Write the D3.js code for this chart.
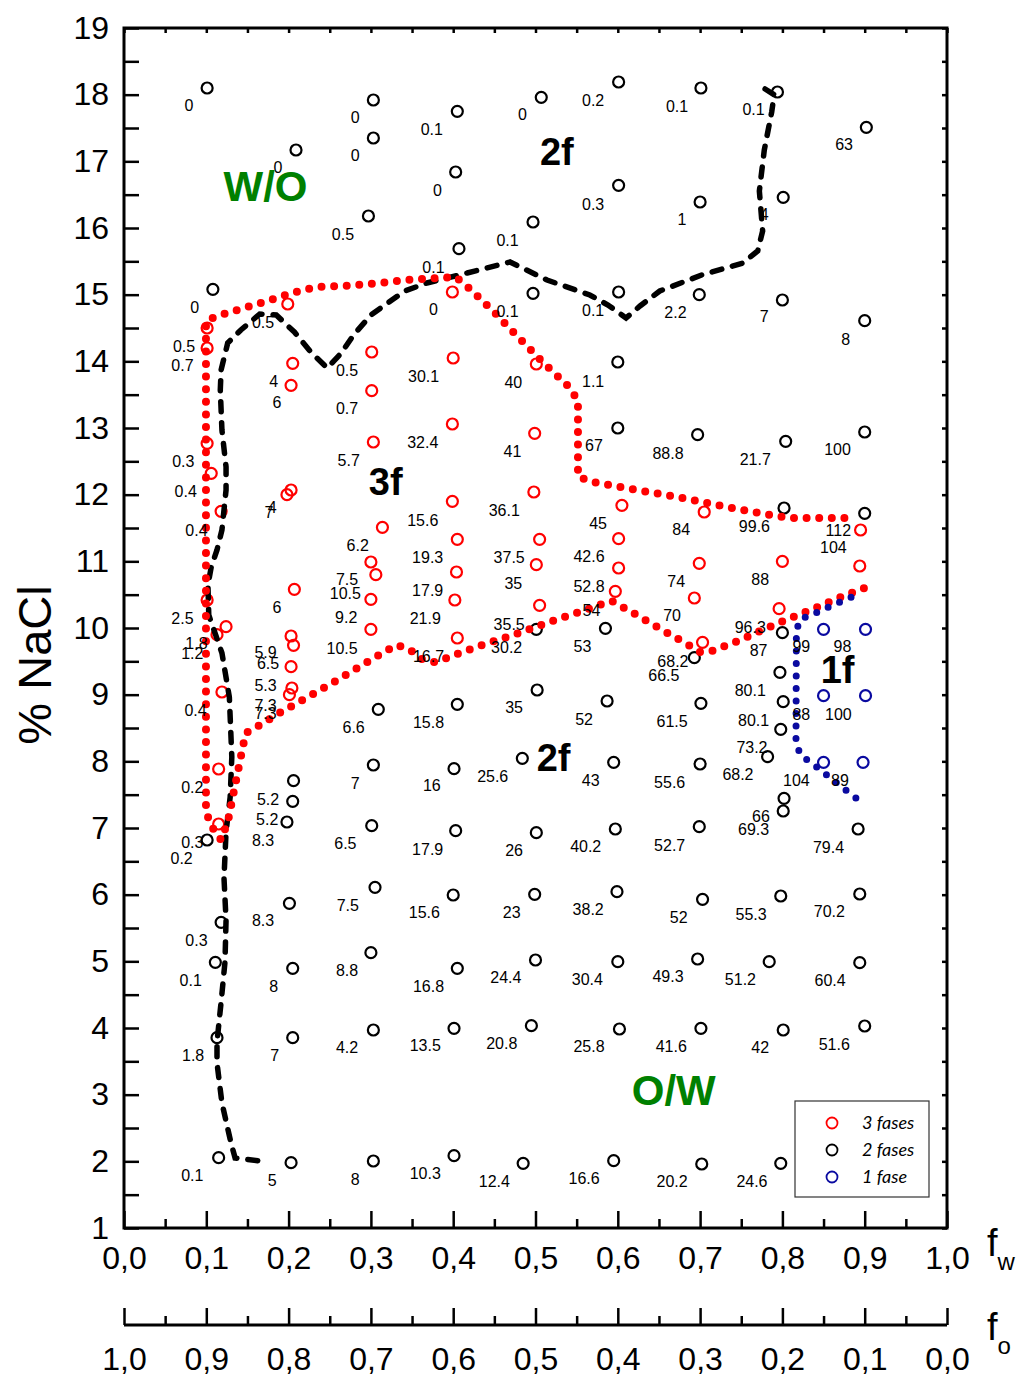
<!DOCTYPE html>
<html>
<head>
<meta charset="utf-8">
<script src="https://cdn.jsdelivr.net/npm/d3@7"></script>
<style>
  body { margin: 0; background: #fff; }
  text { font-family: "Liberation Sans", Arial, sans-serif; }
</style>
</head>
<body>
<div id="chart"></div>
<script>
// ---- data: [fw, %NaCl] ----
const threePhase = [
  [0.101, 14.5], [0.101, 14.2], [0.101, 12.77], [0.106, 12.32], [0.118, 11.75], [0.101, 10.42],
  [0.124, 10.02], [0.113, 9.9], [0.119, 9.04], [0.115, 7.885], [0.115, 7.06],
  [0.199, 14.86], [0.205, 13.97], [0.203, 13.64], [0.203, 12.07], [0.198, 12.0], [0.207, 10.58],
  [0.203, 9.88], [0.206, 9.74], [0.203, 9.42], [0.204, 9.1], [0.201, 9.0],
  [0.301, 14.14], [0.301, 13.56], [0.303, 12.79], [0.314, 11.51], [0.300, 10.99], [0.306, 10.8],
  [0.300, 10.43], [0.300, 9.98],
  [0.399, 15.04], [0.400, 14.05], [0.399, 13.06], [0.399, 11.9], [0.405, 11.33], [0.404, 10.84],
  [0.402, 10.42], [0.405, 9.85],
  [0.501, 13.96], [0.499, 12.92], [0.498, 12.04], [0.505, 11.33], [0.501, 10.95], [0.505, 10.34],
  [0.605, 11.84], [0.601, 11.34], [0.601, 10.9], [0.597, 10.55],
  [0.705, 11.74], [0.699, 10.97], [0.693, 10.45], [0.703, 9.785],
  [0.800, 11.0], [0.796, 10.29],
  [0.895, 11.47], [0.894, 10.93]
];
const twoPhase = [
  [0.101, 18.1], [0.108, 15.08], [0.101, 6.82], [0.118, 5.585], [0.111, 4.985], [0.113, 3.855], [0.115, 2.055],
  [0.209, 17.17], [0.206, 7.71], [0.205, 7.4], [0.198, 7.09], [0.201, 5.87], [0.205, 4.895], [0.205, 3.855], [0.203, 1.98],
  [0.303, 17.92], [0.303, 17.35], [0.297, 16.18], [0.309, 8.78], [0.303, 7.945], [0.301, 7.035], [0.305, 6.11],
  [0.300, 5.13], [0.303, 3.97], [0.303, 2.005],
  [0.405, 17.75], [0.403, 16.84], [0.407, 15.69], [0.405, 8.855], [0.401, 7.89], [0.403, 6.96], [0.400, 5.995],
  [0.405, 4.895], [0.401, 3.995], [0.401, 2.085],
  [0.507, 17.96], [0.497, 16.09], [0.497, 15.02], [0.501, 9.98], [0.502, 9.07], [0.484, 8.045], [0.501, 6.93],
  [0.499, 6.005], [0.500, 5.02], [0.495, 4.035], [0.485, 1.97],
  [0.601, 18.19], [0.601, 16.64], [0.601, 15.04], [0.600, 13.99], [0.600, 13.0], [0.585, 9.995], [0.587, 8.905],
  [0.595, 7.985], [0.597, 6.985], [0.599, 6.045], [0.600, 4.995], [0.602, 3.985], [0.595, 2.01],
  [0.701, 18.1], [0.700, 16.39], [0.699, 15.0], [0.697, 12.9], [0.693, 9.555], [0.701, 8.87], [0.700, 7.96],
  [0.699, 7.02], [0.703, 5.93], [0.697, 5.035], [0.701, 3.995], [0.702, 1.96],
  [0.794, 18.04], [0.801, 16.46], [0.800, 14.92], [0.804, 12.8], [0.802, 11.8], [0.800, 9.93], [0.797, 9.335],
  [0.801, 8.895], [0.798, 8.48], [0.782, 8.07], [0.802, 7.445], [0.801, 7.255], [0.798, 5.98], [0.784, 4.995],
  [0.801, 3.97], [0.798, 1.97],
  [0.902, 17.51], [0.900, 14.61], [0.900, 12.94], [0.900, 11.72], [0.892, 6.985], [0.894, 6.01], [0.894, 4.98],
  [0.900, 4.03]
];
const onePhase = [
  [0.850, 9.98], [0.901, 9.98], [0.850, 8.985], [0.901, 8.985], [0.850, 7.985], [0.898, 7.985]
];

// value labels next to the points: [text, fw, %NaCl]
const valueLabels = [
  ["0", 0.079, 17.835], ["0", 0.281, 17.66], ["0", 0.281, 17.085], ["0", 0.187, 16.91], ["0.5", 0.266, 15.91],
  ["0", 0.086, 14.81], ["0.1", 0.374, 17.475], ["0", 0.484, 17.70], ["0.2", 0.570, 17.91], ["0", 0.381, 16.565],
  ["0.3", 0.570, 16.36], ["0.1", 0.466, 15.81], ["0.1", 0.376, 15.415], ["0.1", 0.466, 14.75], ["0.1", 0.570, 14.76],
  ["0", 0.376, 14.775], ["0.1", 0.672, 17.825], ["0.1", 0.765, 17.775], ["63", 0.875, 17.25], ["1", 0.678, 16.135],
  ["4", 0.778, 16.2], ["2.2", 0.670, 14.735], ["7", 0.778, 14.675], ["8", 0.877, 14.335], ["88.8", 0.661, 12.625],
  ["21.7", 0.767, 12.53], ["100", 0.867, 12.68], ["99.6", 0.766, 11.52], ["112", 0.868, 11.47], ["84", 0.677, 11.48],
  ["104", 0.862, 11.205], ["74", 0.671, 10.705], ["88", 0.773, 10.735], ["70", 0.666, 10.195], ["96.3", 0.761, 10.015],
  ["0.5", 0.073, 14.22], ["0.7", 0.071, 13.935], ["4", 0.182, 13.695], ["6", 0.186, 13.38], ["0.5", 0.271, 13.87],
  ["0.7", 0.271, 13.295], ["0.3", 0.072, 12.495], ["0.4", 0.075, 12.045], ["0.4", 0.088, 11.47], ["4", 0.180, 11.815],
  ["7", 0.176, 11.74], ["5.7", 0.273, 12.52], ["6.2", 0.284, 11.235], ["7.5", 0.271, 10.73], ["10.5", 0.269, 10.52],
  ["9.2", 0.270, 10.165], ["6", 0.186, 10.31], ["2.5", 0.071, 10.15], ["30.1", 0.364, 13.77], ["40", 0.473, 13.685],
  ["1.1", 0.570, 13.705], ["32.4", 0.363, 12.785], ["41", 0.472, 12.655], ["67", 0.571, 12.735], ["15.6", 0.363, 11.62],
  ["36.1", 0.462, 11.77], ["45", 0.576, 11.57], ["19.3", 0.369, 11.06], ["37.5", 0.468, 11.06], ["42.6", 0.565, 11.07],
  ["17.9", 0.369, 10.56], ["35", 0.473, 10.67], ["52.8", 0.565, 10.63], ["21.9", 0.366, 10.15], ["35.5", 0.468, 10.06],
  ["54", 0.568, 10.27], ["1.8", 0.088, 9.77], ["1.2", 0.083, 9.62], ["5.9", 0.172, 9.635], ["6.5", 0.175, 9.47],
  ["5.3", 0.172, 9.135], ["7.3", 0.172, 8.835], ["7.3", 0.172, 8.72], ["0.4", 0.087, 8.76], ["10.5", 0.265, 9.695],
  ["0.2", 0.083, 7.61], ["0.3", 0.083, 6.785], ["0.2", 0.070, 6.545], ["6.6", 0.279, 8.51], ["5.2", 0.175, 7.43],
  ["5.2", 0.174, 7.13], ["8.3", 0.169, 6.82], ["7", 0.281, 7.67], ["6.5", 0.269, 6.77], ["7.5", 0.272, 5.845],
  ["8.3", 0.169, 5.62], ["16.7", 0.370, 9.57], ["30.2", 0.465, 9.71], ["53", 0.557, 9.72], ["15.8", 0.370, 8.585],
  ["35", 0.474, 8.81], ["52", 0.559, 8.635], ["16", 0.374, 7.635], ["25.6", 0.448, 7.78], ["43", 0.567, 7.72],
  ["17.9", 0.369, 6.685], ["26", 0.474, 6.66], ["40.2", 0.561, 6.72], ["15.6", 0.365, 5.74], ["23", 0.471, 5.74],
  ["38.2", 0.564, 5.785], ["87", 0.771, 9.66], ["68.2", 0.667, 9.505], ["66.5", 0.656, 9.295], ["80.1", 0.761, 9.06],
  ["80.1", 0.765, 8.62], ["73.2", 0.763, 8.21], ["68.2", 0.746, 7.81], ["61.5", 0.666, 8.605], ["55.6", 0.663, 7.69],
  ["104", 0.817, 7.71], ["66", 0.774, 7.17], ["69.3", 0.765, 6.985], ["52.7", 0.663, 6.745], ["79.4", 0.856, 6.71],
  ["52", 0.674, 5.665], ["55.3", 0.762, 5.71], ["70.2", 0.857, 5.745], ["99", 0.823, 9.72], ["98", 0.873, 9.72],
  ["88", 0.823, 8.71], ["100", 0.868, 8.71], ["89", 0.870, 7.72], ["0.3", 0.088, 5.31], ["0.1", 0.081, 4.72],
  ["8", 0.182, 4.63], ["8.8", 0.271, 4.86], ["1.8", 0.084, 3.585], ["7", 0.183, 3.595], ["4.2", 0.271, 3.71],
  ["0.1", 0.083, 1.785], ["5", 0.180, 1.71], ["8", 0.281, 1.735], ["16.8", 0.370, 4.63], ["24.4", 0.464, 4.755],
  ["30.4", 0.563, 4.735], ["13.5", 0.366, 3.735], ["20.8", 0.459, 3.77], ["25.8", 0.565, 3.72], ["10.3", 0.366, 1.82],
  ["12.4", 0.450, 1.705], ["16.6", 0.559, 1.745], ["49.3", 0.661, 4.78], ["51.2", 0.749, 4.735], ["60.4", 0.858, 4.71],
  ["41.6", 0.665, 3.73], ["42", 0.773, 3.705], ["51.6", 0.863, 3.76], ["20.2", 0.666, 1.705], ["24.6", 0.763, 1.695],
  ["0.5", 0.169, 14.59]
];

// region names: [text, fw, %NaCl, colour]
const regionLabels = [
  ["W/O", 0.172, 16.63, "#008000"], ["2f", 0.526, 17.15, "#000"], ["3f", 0.318, 12.195, "#000"],
  ["2f", 0.522, 8.055, "#000"], ["1f", 0.867, 9.37, "#000"], ["O/W", 0.668, 3.07, "#008000"]
];

// boundary of the W/O - O/W inversion (dashed black)
const inversionLine = [
  [0.779, 18.085], [0.790, 18.0], [0.787, 17.74], [0.778, 17.17], [0.772, 16.555], [0.776, 15.955],
  [0.770, 15.655], [0.752, 15.475], [0.702, 15.295], [0.651, 15.055], [0.627, 14.83], [0.610, 14.65],
  [0.588, 14.845], [0.566, 14.995], [0.514, 15.22], [0.469, 15.49], [0.417, 15.325], [0.368, 15.175],
  [0.341, 15.055], [0.300, 14.695], [0.279, 14.395], [0.264, 14.125], [0.247, 13.9], [0.228, 14.125],
  [0.207, 14.44], [0.185, 14.695], [0.165, 14.71], [0.142, 14.47], [0.126, 14.275], [0.118, 13.87],
  [0.117, 13.57], [0.119, 12.97], [0.124, 12.415], [0.124, 12.07], [0.119, 11.47], [0.113, 11.17],
  [0.106, 10.915], [0.102, 10.645], [0.103, 10.195], [0.119, 9.625], [0.128, 8.965], [0.131, 8.065],
  [0.129, 7.465], [0.124, 6.94], [0.1215, 6.25], [0.124, 5.62], [0.1227, 4.99], [0.118, 4.39],
  [0.113, 3.79], [0.113, 3.475], [0.119, 2.875], [0.130, 2.275], [0.135, 2.05], [0.175, 1.99]
];

// three phase region border (red dots)
const threePhaseLine = [
  [0.899, 10.595], [0.868, 10.45], [0.837, 10.285], [0.807, 10.135], [0.776, 9.97], [0.746, 9.805],
  [0.7145, 9.655], [0.700, 9.64], [0.684, 9.76], [0.654, 9.97], [0.623, 10.195], [0.593, 10.405],
  [0.577, 10.345], [0.561, 10.27], [0.531, 10.15], [0.5006, 10.015], [0.469, 9.88], [0.4386, 9.76],
  [0.408, 9.625], [0.392, 9.55], [0.377, 9.49], [0.362, 9.535], [0.3475, 9.67], [0.332, 9.745],
  [0.316, 9.64], [0.2855, 9.415], [0.255, 9.19], [0.2236, 8.965], [0.193, 8.755], [0.163, 8.53],
  [0.148, 8.425], [0.1446, 8.23], [0.1385, 7.855], [0.1324, 7.48], [0.1264, 7.105], [0.118, 6.82],
  [0.107, 7.015], [0.0996, 7.24], [0.0996, 14.605], [0.113, 14.68], [0.142, 14.785], [0.174, 14.905],
  [0.204, 15.025], [0.2345, 15.115], [0.265, 15.13], [0.311, 15.175], [0.3426, 15.22], [0.403, 15.265],
  [0.419, 15.1], [0.4496, 14.74], [0.480, 14.35], [0.510, 13.975], [0.542, 13.6], [0.5516, 13.405],
  [0.5516, 12.28], [0.5638, 12.205], [0.610, 12.1], [0.672, 11.965], [0.7327, 11.815], [0.779, 11.71],
  [0.809, 11.65], [0.886, 11.65]
];

// one phase region border (blue dots)
const onePhaseLine = [
  [0.8834, 10.46], [0.868, 10.38], [0.8375, 10.21], [0.822, 10.13], [0.817, 9.97], [0.8165, 8.28],
  [0.822, 8.095], [0.8375, 7.955], [0.868, 7.655], [0.899, 7.355]
];

const legendItems = [["3 fases", "#ff0000"], ["2 fases", "#000000"], ["1 fase", "#0a0aa0"]];
const yTicks = d3.range(1, 19.01, 0.5);
const xMajorTicks = d3.range(0, 1.001, 0.1);
const xMinorTicks = d3.range(0.05, 1, 0.1);

const RED = "#ff0000", BLUE = "#0a0aa0";

const margin = { top: 28, left: 124 };
const width = 823, height = 1200;

const svg = d3.select("#chart").append("svg")
  .attr("width", 1021).attr("height", 1379)
  .append("g")
  .attr("transform", "translate(" + margin.left + "," + margin.top + ")");

const x = d3.scaleLinear().domain([0, 1]).range([0, width]);
const xo = d3.scaleLinear().domain([1, 0]).range([0, width]);
const y = d3.scaleLinear().domain([1, 19]).range([height, 0]);

const fmtComma = (d) => d3.format(".1f")(d).replace(".", ",");

// left axis
const gy = svg.append("g").call(
  d3.axisLeft(y).tickValues(yTicks).tickSize(-15).tickPadding(15)
    .tickFormat((d) => (Number.isInteger(d) ? d : ""))
);
// right mirror ticks
const gyr = svg.append("g").attr("transform", "translate(" + width + ",0)")
  .call(d3.axisRight(y).tickValues(yTicks).tickSize(-5).tickFormat(""));
// top mirror ticks
const gxt = svg.append("g")
  .call(d3.axisTop(x).tickValues(d3.range(0, 1.001, 0.05)).tickSize(-5).tickFormat(""));
// bottom fw axis
const gx = svg.append("g").attr("transform", "translate(0," + height + ")")
  .call(d3.axisBottom(x).tickValues(xMajorTicks).tickSize(-17).tickPadding(18).tickFormat(fmtComma));
const gxm = svg.append("g").attr("transform", "translate(0," + height + ")")
  .call(d3.axisBottom(x).tickValues(xMinorTicks).tickSize(-9).tickFormat(""));
// second fo axis
const go = svg.append("g").attr("transform", "translate(0," + (height + 97) + ")")
  .call(d3.axisBottom(xo).tickValues(xMajorTicks).tickSize(-17).tickPadding(22).tickFormat(fmtComma));
const gom = svg.append("g").attr("transform", "translate(0," + (height + 97) + ")")
  .call(d3.axisBottom(xo).tickValues(xMinorTicks).tickSize(-9).tickFormat(""));

[gy, gyr, gxt, gx, gxm, go, gom].forEach((g) => {
  g.select(".domain").remove();
  g.selectAll(".tick line").attr("stroke", "#000").attr("stroke-width", 2.5);
  g.selectAll(".tick text").attr("fill", "#000").style("font-size", "32px")
    .style("font-family", "Liberation Sans, Arial, sans-serif");
});

// frame and fo baseline
svg.append("rect").attr("x", 0).attr("y", 0).attr("width", width).attr("height", height)
  .attr("fill", "none").attr("stroke", "#000").attr("stroke-width", 3);
svg.append("line").attr("x1", 0).attr("x2", width)
  .attr("y1", height + 97).attr("y2", height + 97)
  .attr("stroke", "#000").attr("stroke-width", 3);

// axis titles
svg.append("text")
  .attr("transform", "translate(-89," + (y(10) + 37) + ") rotate(-90)")
  .attr("text-anchor", "middle").attr("dy", "0.35em")
  .style("font-size", "47px").text("% NaCl");

function subTitle(sub, ty) {
  const t = svg.append("text").attr("x", width + 40).attr("y", ty).style("font-size", "38px");
  t.append("tspan").text("f");
  t.append("tspan").attr("dy", 14).style("font-size", "24px").text(sub);
}
subTitle("w", height + 28);
subTitle("o", height + 112);

// circles
function drawPoints(data, color) {
  svg.append("g").selectAll("circle").data(data).enter().append("circle")
    .attr("cx", (d) => x(d[0])).attr("cy", (d) => y(d[1])).attr("r", 5.5)
    .attr("fill", "none").attr("stroke", color).attr("stroke-width", 2.2);
}
drawPoints(twoPhase, "#000");
drawPoints(threePhase, RED);
drawPoints(onePhase, BLUE);

// boundary lines
const line = d3.line().x((d) => x(d[0])).y((d) => y(d[1]));
svg.append("path").datum(inversionLine).attr("d", line)
  .attr("fill", "none").attr("stroke", "#000").attr("stroke-width", 5.5)
  .attr("stroke-linecap", "round").attr("stroke-dasharray", "10 11");
svg.append("path").datum(threePhaseLine).attr("d", line)
  .attr("fill", "none").attr("stroke", RED).attr("stroke-width", 8)
  .attr("stroke-linecap", "round").attr("stroke-dasharray", "0 12.6");
svg.append("path").datum(onePhaseLine).attr("d", line)
  .attr("fill", "none").attr("stroke", BLUE).attr("stroke-width", 7)
  .attr("stroke-linecap", "round").attr("stroke-dasharray", "0 12.5");

// value labels
svg.append("g").selectAll("text").data(valueLabels).enter().append("text")
  .attr("x", (d) => x(d[1])).attr("y", (d) => y(d[2]))
  .attr("text-anchor", "middle").attr("dy", "0.35em")
  .style("font-size", "16px").text((d) => d[0]);

// region labels
svg.append("g").selectAll("text").data(regionLabels).enter().append("text")
  .attr("x", (d) => x(d[1])).attr("y", (d) => y(d[2]))
  .attr("text-anchor", "middle").attr("dy", "0.35em")
  .style("font-size", (d) => (d[0].length > 2 ? "42px" : "38px"))
  .style("font-weight", "bold").attr("fill", (d) => d[3]).text((d) => d[0]);

// legend
const lg = svg.append("g").attr("transform", "translate(671,1073)");
lg.append("rect").attr("width", 134).attr("height", 96)
  .attr("fill", "#fff").attr("stroke", "#333").attr("stroke-width", 1.2);
lg.selectAll("circle").data(legendItems).enter().append("circle")
  .attr("cx", 37).attr("cy", (d, i) => 22 + i * 27).attr("r", 5.5)
  .attr("fill", "none").attr("stroke", (d) => d[1]).attr("stroke-width", 1.8);
lg.selectAll("text").data(legendItems).enter().append("text")
  .attr("x", 67).attr("y", (d, i) => 22 + i * 27).attr("dy", "0.35em")
  .style("font-family", "Lato, sans-serif").style("font-style", "italic").style("font-size", "18px")
  .text((d) => d[0]);
</script>
</body>
</html>
